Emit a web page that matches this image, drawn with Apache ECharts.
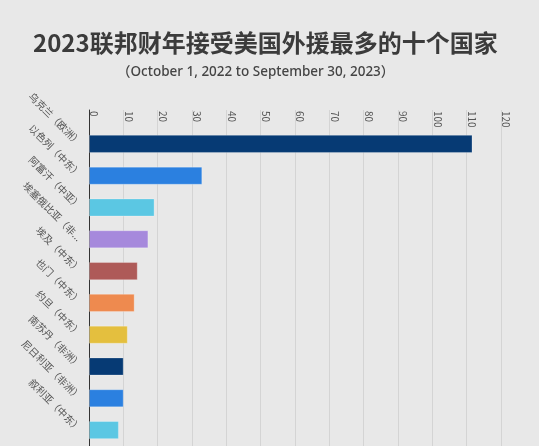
<!DOCTYPE html>
<html>
<head>
<meta charset="UTF-8">
<title>2023联邦财年接受美国外援最多的十个国家</title>
<script type="text/javascript" src="https://cdn.jsdelivr.net/npm/echarts@6/dist/echarts.min.js"></script>
<style>
	html,body{margin:0;padding:0;background:#e8e8e8;}
</style>
</head>
<body>
	<div id="show" style="width:539px;height:446px"></div>
	<script type="text/javascript">
		// 数据
		var countries=['乌克兰（欧洲）','以色列（中东）','阿富汗（中亚）','埃塞俄比亚（非洲）','埃及（中东）','也门（中东）','约旦（中东）','南苏丹（非洲）','尼日利亚（非洲）','叙利亚（中东）'];
		var aid=[111.7,33.0,19.1,17.3,14.2,13.3,11.3,10.1,10.1,8.7];
		var barColors=['#063a74','#2b80e0','#5bc7e3','#a689dc','#ae5a58','#ee8a4f','#e4bf3e','#063a74','#2b80e0','#5bc7e3'];
		var xTicks={min:0,max:120,interval:10};

		var myCharts=echarts.init(document.getElementById('show'));
		myCharts.setOption({
			backgroundColor:'#e8e8e8',
			textStyle:{fontFamily:'"Noto Sans CJK SC","Noto Sans",sans-serif'},
			title:[{
				text:'2023联邦财年接受美国外援最多的十个国家',
				left:28,
				top:26,
				textStyle:{fontSize:24,fontWeight:'bold',color:'#3b3b3b',fontFamily:'"Noto Sans CJK SC",sans-serif'}
			},{
				text:'（October 1, 2022 to September 30, 2023）',
				left:112,
				top:60,
				textStyle:{fontSize:13.5,fontWeight:500,color:'#444',fontFamily:'"Noto Sans","Noto Sans CJK SC",sans-serif'}
			}],
			grid:[
				{left:89,right:38,top:110,height:18},
				{left:89,right:38,top:128,bottom:0}
			],
			xAxis:[{
				gridIndex:0,
				type:'value',
				position:'top',
				min:xTicks.min,max:xTicks.max,interval:xTicks.interval,
				axisLine:{show:false},
				axisTick:{show:false},
				axisLabel:{inside:true,rotate:90,align:'left',verticalAlign:'bottom',margin:1,
					fontSize:10,color:'#555'},
				splitLine:{lineStyle:{color:'#d4d4d4'}}
			},{
				gridIndex:1,
				type:'value',
				position:'top',
				min:xTicks.min,max:xTicks.max,interval:xTicks.interval,
				axisLine:{show:false},
				axisTick:{show:false},
				axisLabel:{show:false},
				splitLine:{lineStyle:{color:'#d4d4d4'}}
			}],
			yAxis:[{
				gridIndex:0,
				type:'category',
				data:[''],
				axisLine:{lineStyle:{color:'#333'}},
				axisTick:{show:false},
				axisLabel:{show:false}
			},{
				gridIndex:1,
				type:'category',
				inverse:true,
				data:countries,
				axisLine:{lineStyle:{color:'#333'}},
				axisTick:{show:false},
				axisLabel:{rotate:-45,margin:9,fontSize:10,color:'#555',
					width:85,overflow:'truncate'}
			}],
			series:[{
				name:'外援',
				type:'bar',
				xAxisIndex:1,
				yAxisIndex:1,
				barCategoryGap:'43%',
				data:aid.map(function(v,i){
					return {value:v,itemStyle:{color:barColors[i],borderColor:'rgba(255,255,255,0.25)',borderWidth:1}};
				})
			}]
		});
	</script>
</body>
</html>
